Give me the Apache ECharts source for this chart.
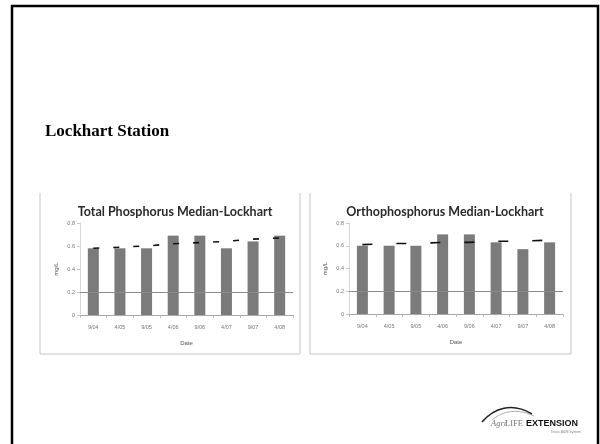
<!DOCTYPE html>
<html>
<head>
<meta charset="utf-8">
<script src="https://cdn.jsdelivr.net/npm/echarts@6/dist/echarts.min.js"></script>
<style>html,body{margin:0;padding:0;background:#fff}#c{width:600px;height:444px}</style>
</head>
<body>
<div id="c"></div>
<script>
const categories = ["9/04", "4/05", "9/05", "4/06", "9/06", "4/07", "9/07", "4/08"];
const totalP = [0.58, 0.58, 0.58, 0.69, 0.69, 0.58, 0.64, 0.69];
const totalPTrend = [0.58, 0.59, 0.60, 0.62, 0.63, 0.64, 0.66, 0.67];
const orthoP = [0.60, 0.60, 0.60, 0.70, 0.70, 0.63, 0.57, 0.63];
const orthoPTrend = [0.61, 0.62, 0.62, 0.63, 0.63, 0.64, 0.64, 0.65];
const standardLevel = 0.2;
const yTicks = { min: 0, max: 0.8, interval: 0.2 };
const titles = ["Total Phosphorus Median-Lockhart", "Orthophosphorus Median-Lockhart"];

const chart = echarts.init(document.getElementById('c'), null, { renderer: 'canvas' });

function xAxis(gi) {
  return {
    type: 'category', gridIndex: gi, data: categories,
    axisLine: { lineStyle: { color: '#a8a8a8', width: 1 } },
    axisTick: { show: true, length: 3, lineStyle: { color: '#bdbdbd' } },
    axisLabel: { fontSize: 5.5, color: '#777', margin: 9, fontFamily: 'Liberation Sans' },
    name: 'Date', nameLocation: 'middle', nameGap: 25,
    nameTextStyle: { fontSize: 6, color: '#555', fontFamily: 'Liberation Sans' }
  };
}
function yAxis(gi) {
  return {
    type: 'value', gridIndex: gi, min: yTicks.min, max: yTicks.max, interval: yTicks.interval,
    axisLine: { show: true, lineStyle: { color: '#d8d8d8' } },
    axisTick: { show: true, length: 3, lineStyle: { color: '#c8c8c8' } },
    splitLine: { show: false },
    axisLabel: { fontSize: 5.5, color: '#777', margin: 5, fontFamily: 'Liberation Sans',
      formatter: v => v === 0 ? '0' : v.toFixed(1) },
    name: 'mg/L', nameLocation: 'middle', nameGap: 21, nameRotate: 90,
    nameTextStyle: { fontSize: 6, color: '#555', fontFamily: 'Liberation Sans' }
  };
}
function barSeries(gi, data) {
  return {
    type: 'bar', xAxisIndex: gi, yAxisIndex: gi, data: data, barWidth: 11,
    itemStyle: { color: '#7b7b7b' }, silent: true,
    markLine: {
      silent: true, symbol: 'none', label: { show: false },
      lineStyle: { color: '#8a8a8a', width: 1, type: 'solid' },
      data: [{ yAxis: standardLevel }]
    }
  };
}
function trendSeries(gi, data, dash) {
  return {
    type: 'line', xAxisIndex: gi, yAxisIndex: gi, data: data, showSymbol: false, z: 5,
    lineStyle: { color: '#111', width: 1.6, type: dash }, silent: true
  };
}

const option = {
  animation: false,
  backgroundColor: '#fff',
  title: [
    { text: titles[0], left: 170, top: 200, textAlign: 'center',
      textStyle: { fontSize: 12.5, fontWeight: 'bold', color: '#2a2a2a', fontFamily: 'Lato' } },
    { text: titles[1], left: 440, top: 200, textAlign: 'center',
      textStyle: { fontSize: 12.5, fontWeight: 'bold', color: '#2a2a2a', fontFamily: 'Lato' } }
  ],
  grid: [
    { left: 80, right: 307, top: 223, bottom: 129 },
    { left: 349, right: 37, top: 223, bottom: 130 }
  ],
  xAxis: [xAxis(0), xAxis(1)],
  yAxis: [yAxis(0), yAxis(1)],
  series: [
    barSeries(0, totalP), trendSeries(0, totalPTrend, [6, 14]),
    barSeries(1, orthoP), trendSeries(1, orthoPTrend, [10, 24])
  ],
  graphic: [
    { type: 'rect', shape: { x: 12, y: 6, width: 586, height: 470 },
      style: { fill: null, stroke: '#000', lineWidth: 2.5 } },
    { type: 'polyline', shape: { points: [[40, 193], [40, 354], [300, 354], [300, 193]] },
      style: { fill: null, stroke: '#c4c4c4', lineWidth: 1 } },
    { type: 'polyline', shape: { points: [[310, 193], [310, 354], [571, 354], [571, 193]] },
      style: { fill: null, stroke: '#c4c4c4', lineWidth: 1 } },
    { type: 'text', x: 45, y: 132,
      style: { text: 'Lockhart Station', font: 'bold 17px "Liberation Serif"', fill: '#000', textVerticalAlign: 'middle' } },
    { type: 'bezierCurve', shape: { x1: 482, y1: 422, cpx1: 494, cpy1: 408, cpx2: 512, cpy2: 402, x2: 532, y2: 414 },
      style: { fill: null, stroke: '#222', lineWidth: 1.6 } },
    { type: 'bezierCurve', shape: { x1: 492, y1: 420, cpx1: 502, cpy1: 411, cpx2: 518, cpy2: 408, x2: 534, y2: 416 },
      style: { fill: null, stroke: '#999', lineWidth: 0.8 } },
    { type: 'text', x: 491, y: 424,
      style: { text: 'Agri', font: 'italic 8.5px "Liberation Serif"', fill: '#777', textVerticalAlign: 'middle' } },
    { type: 'text', x: 505, y: 424,
      style: { text: 'LIFE', font: '8.5px "Liberation Serif"', fill: '#777', textVerticalAlign: 'middle' } },
    { type: 'text', x: 526, y: 424,
      style: { text: 'EXTENSION', font: 'bold 9px "Liberation Sans"', fill: '#111', textVerticalAlign: 'middle' } },
    { type: 'text', x: 581, y: 432,
      style: { text: 'Texas A&M System', font: '3.5px "Liberation Sans"', fill: '#888', textAlign: 'right', textVerticalAlign: 'middle' } }
  ]
};
chart.setOption(option);
</script>
</body>
</html>
